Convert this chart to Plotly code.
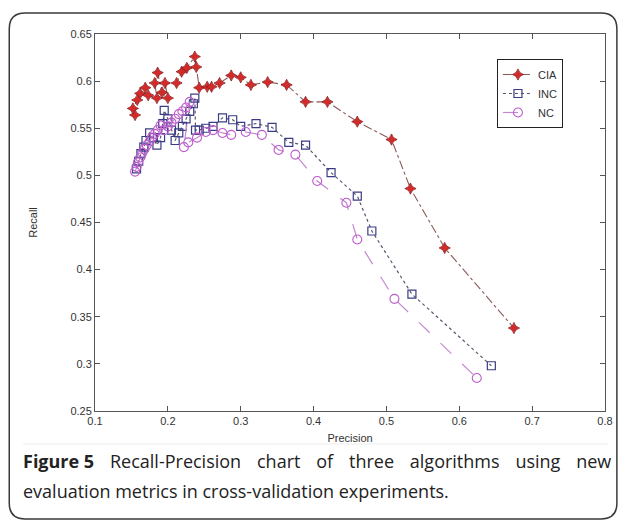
import plotly.graph_objects as go

# ---------------- data ----------------
cia_precision = [0.155, 0.152, 0.158, 0.162, 0.169, 0.173, 0.185, 0.182, 0.186, 0.192,
                 0.200, 0.196, 0.212, 0.219, 0.226, 0.237, 0.239, 0.243, 0.254, 0.260,
                 0.271, 0.287, 0.300, 0.314, 0.337, 0.363, 0.389, 0.419, 0.460, 0.507,
                 0.533, 0.580, 0.675]
cia_recall = [0.564, 0.571, 0.580, 0.587, 0.593, 0.585, 0.582, 0.598, 0.609, 0.588,
              0.582, 0.598, 0.598, 0.610, 0.614, 0.626, 0.615, 0.593, 0.594, 0.594,
              0.598, 0.606, 0.604, 0.596, 0.599, 0.596, 0.578, 0.578, 0.557, 0.538,
              0.486, 0.423, 0.338]

inc_precision = [0.157, 0.160, 0.163, 0.167, 0.170, 0.175, 0.180, 0.185, 0.190, 0.193,
                 0.195, 0.200, 0.205, 0.210, 0.215, 0.220, 0.225, 0.230, 0.235, 0.237,
                 0.238, 0.243, 0.252, 0.262, 0.275, 0.289, 0.300, 0.321, 0.343, 0.366,
                 0.389, 0.424, 0.460, 0.480, 0.535, 0.644]
inc_recall = [0.507, 0.515, 0.523, 0.530, 0.537, 0.545, 0.540, 0.532, 0.540, 0.555,
              0.569, 0.560, 0.548, 0.537, 0.545, 0.552, 0.560, 0.568, 0.576, 0.582,
              0.548, 0.548, 0.550, 0.552, 0.561, 0.559, 0.552, 0.555, 0.551, 0.535,
              0.532, 0.503, 0.478, 0.441, 0.374, 0.298]

nc_precision = [0.155, 0.157, 0.159, 0.162, 0.165, 0.168, 0.171, 0.175, 0.178, 0.182,
                0.186, 0.190, 0.195, 0.200, 0.205, 0.210, 0.215, 0.220, 0.225, 0.230,
                0.222, 0.228, 0.240, 0.252, 0.262, 0.275, 0.287, 0.307, 0.329, 0.352,
                0.375, 0.405, 0.445, 0.460, 0.511, 0.624]
nc_recall = [0.504, 0.509, 0.514, 0.519, 0.524, 0.528, 0.532, 0.536, 0.540, 0.544,
             0.548, 0.553, 0.548, 0.552, 0.556, 0.560, 0.565, 0.568, 0.572, 0.578,
             0.530, 0.535, 0.540, 0.546, 0.548, 0.545, 0.543, 0.546, 0.543, 0.527,
             0.522, 0.494, 0.471, 0.432, 0.369, 0.285]

x_ticks = [0.1, 0.2, 0.3, 0.4, 0.5, 0.6, 0.7, 0.8]
x_tick_labels = ["0.1", "0.2", "0.3", "0.4", "0.5", "0.6", "0.7", "0.8"]
y_ticks = [0.25, 0.3, 0.35, 0.4, 0.45, 0.5, 0.55, 0.6, 0.65]
y_tick_labels = ["0.25", "0.3", "0.35", "0.4", "0.45", "0.5", "0.55", "0.6", "0.65"]

caption_bold = "Figure 5"
caption_line1_words = ["Recall-Precision", "chart", "of", "three", "algorithms", "using", "new"]
caption_line2 = "evaluation metrics in cross-validation experiments."

# ---------------- layout geometry ----------------
W, H = 625, 521
L, R, T, B = 94.5, 609.0, 34.0, 411.0


def px(xp):
    return (xp - L) / (R - L)


def py(yp):
    return (B - yp) / (B - T)


fig = go.Figure()

fig.add_trace(go.Scatter(
    x=cia_precision, y=cia_recall, mode="lines+markers", name="CIA",
    line=dict(color="#8c5a5a", dash="dashdot", width=1.1),
    marker=dict(symbol="star-diamond", size=8, color="#d42a2a",
                line=dict(color="#8b1a1a", width=0.8)),
))
fig.add_trace(go.Scatter(
    x=inc_precision, y=inc_recall, mode="lines+markers", name="INC",
    line=dict(color="#55556e", dash="dot", width=1.2),
    marker=dict(symbol="square-open", size=8, color="#3c3c86",
                line=dict(width=1.2)),
))
fig.add_trace(go.Scatter(
    x=nc_precision, y=nc_recall, mode="lines+markers", name="NC",
    line=dict(color="#c488d0", dash="longdash", width=1.2),
    marker=dict(symbol="circle-open", size=9, color="#bd5ccc",
                line=dict(width=1.1)),
))

axis_font = dict(family="Liberation Sans, Arial, sans-serif", size=11, color="#333333")

fig.update_xaxes(
    range=[0.1, 0.8], tickvals=x_ticks, ticktext=x_tick_labels,
    showgrid=False, zeroline=False, showline=True, linecolor="#555555", linewidth=1,
    mirror="ticks", ticks="inside", ticklen=5, tickcolor="#555555",
    tickfont=axis_font,
    title=dict(text="Precision", font=axis_font, standoff=8),
)
fig.update_yaxes(
    range=[0.25, 0.65], tickvals=y_ticks, ticktext=y_tick_labels,
    showgrid=False, zeroline=False, showline=True, linecolor="#555555", linewidth=1,
    mirror="ticks", ticks="inside", ticklen=5, tickcolor="#555555",
    tickfont=axis_font,
    title=dict(text="Recall", font=axis_font, standoff=30),
)

# rounded card border
x0, x1 = px(8), px(621)
y0, y1 = py(13), py(519)
rx = 16 / (R - L)
ry = 16 / (B - T)
path = (f"M {x0+rx},{y0} L {x1-rx},{y0} Q {x1},{y0} {x1},{y0-ry} "
        f"L {x1},{y1+ry} Q {x1},{y1} {x1-rx},{y1} "
        f"L {x0+rx},{y1} Q {x0},{y1} {x0},{y1+ry} "
        f"L {x0},{y0-ry} Q {x0},{y0} {x0+rx},{y0} Z")

shapes = [
    dict(type="path", xref="paper", yref="paper", path=path,
         line=dict(color="#3a3a3a", width=1.5), fillcolor="rgba(0,0,0,0)", layer="below"),
    dict(type="line", xref="paper", yref="paper", x0=px(22), x1=px(612), y0=py(444), y1=py(444),
         line=dict(color="#ececec", width=1)),
]

cap_font = dict(family="Open Sans, Lato, sans-serif", size=18, color="#222222")
gap = "&nbsp;&nbsp;&nbsp;&#8202;"
line1 = f"<b>{caption_bold}</b>{gap}" + gap.join(caption_line1_words)
annotations = [
    dict(xref="paper", yref="paper", x=px(20), y=py(461), xanchor="left", yanchor="middle",
         text=line1, showarrow=False, font=cap_font),
    dict(xref="paper", yref="paper", x=px(20), y=py(491), xanchor="left", yanchor="middle",
         text=caption_line2, showarrow=False, font=cap_font),
]

fig.update_layout(
    width=W, height=H, autosize=False,
    margin=dict(l=L, r=W - R, t=T, b=H - B),
    paper_bgcolor="white", plot_bgcolor="white",
    showlegend=True,
    legend=dict(x=px(500), y=py(59), xanchor="left", yanchor="top",
                bordercolor="#222222", borderwidth=1, bgcolor="white",
                font=dict(family="Liberation Sans, Arial, sans-serif", size=11, color="#333333"),
                tracegroupgap=0, itemwidth=30),
    shapes=shapes,
    annotations=annotations,
)

fig.write_html("out.html",
               config={"displayModeBar": False},
               post_script="document.body.style.margin='0';document.body.style.overflow='hidden';")
